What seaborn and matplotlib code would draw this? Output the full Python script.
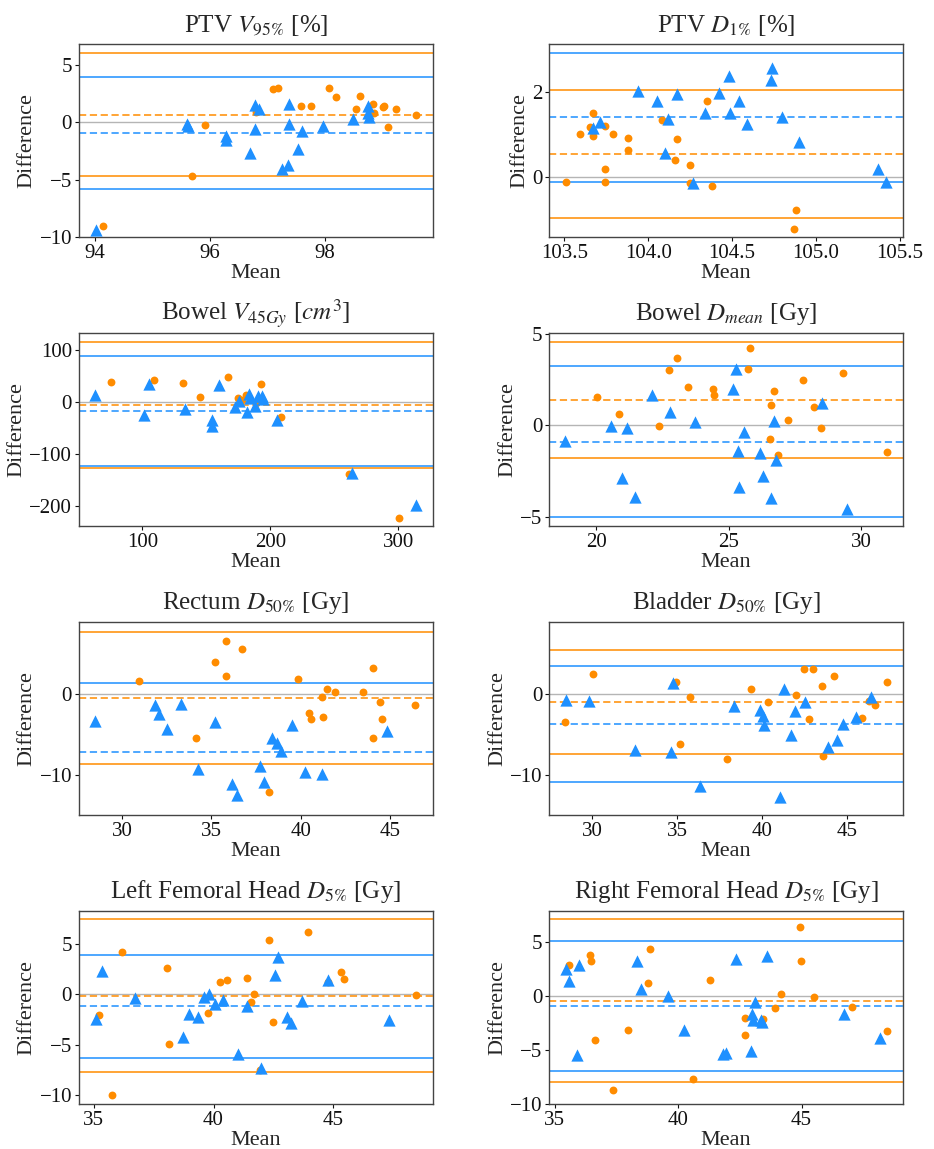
import numpy as np
import pandas as pd
import matplotlib.pyplot as plt
import seaborn as sns

# Bland-Altman: mean vs difference, method A (orange circles) and B (blue triangles)

# PTV V95%
ptv_v95_mean_a = [94.15, 95.70, 95.92, 96.81, 97.10, 97.19, 97.59, 97.76, 98.07, 98.19,
                  98.60, 98.54, 98.84, 98.86, 99.00, 99.03, 99.09, 99.23, 99.58]
ptv_v95_diff_a = [-9.01, -4.65, -0.23, 0.87, 2.91, 2.97, 1.45, 1.40, 3.02, 2.21,
                  2.30, 1.16, 1.63, 0.78, 1.34, 1.45, -0.44, 1.13, 0.64]
ptv_v95_mean_b = [94.02, 95.61, 95.63, 96.28, 96.29, 96.70, 96.78, 96.79, 96.86, 97.26,
                  97.36, 97.37, 97.38, 97.54, 97.60, 97.96, 98.48, 98.75, 98.75, 98.76]
ptv_v95_diff_b = [-9.36, -0.15, -0.35, -1.22, -1.57, -2.67, -0.58, 1.51, 1.19, -4.04,
                  -3.75, 1.63, -0.17, -2.30, -0.76, -0.35, 0.29, 1.45, 0.81, 0.47]

# PTV D1%
ptv_d1_mean_a = [103.51, 103.59, 103.65, 103.67, 103.67, 103.74, 103.74, 103.74, 103.79, 103.88,
                 103.88, 104.08, 104.17, 104.16, 104.25, 104.25, 104.35, 104.38, 104.88, 104.87]
ptv_d1_diff_a = [-0.13, 1.02, 1.19, 1.50, 0.97, 1.20, 0.19, -0.11, 1.02, 0.91,
                 0.64, 1.34, 0.89, 0.40, 0.29, -0.15, 1.80, -0.21, -0.78, -1.22]
ptv_d1_mean_b = [103.67, 103.71, 103.94, 104.05, 104.10, 104.12, 104.17, 104.27, 104.34, 104.42,
                 104.48, 104.49, 104.54, 104.59, 104.73, 104.74, 104.80, 104.90, 105.37, 105.42]
ptv_d1_diff_b = [1.16, 1.29, 2.02, 1.80, 0.57, 1.37, 1.96, -0.14, 1.52, 1.99,
                 2.38, 1.50, 1.79, 1.25, 2.30, 2.57, 1.41, 0.82, 0.19, -0.13]

# Bowel V45Gy
bowel_v45_mean_a = [75.3, 108.9, 132.0, 144.8, 166.9, 174.5, 181.2, 178.0, 189.0, 192.9,
                    208.6, 261.5, 301.0]
bowel_v45_diff_a = [37.3, 42.5, 36.1, 9.0, 47.0, 6.4, 13.5, 3.0, -3.0, 34.1,
                    -29.0, -138.4, -223.4]
bowel_v45_mean_b = [63.3, 101.3, 105.2, 133.3, 154.4, 154.4, 159.6, 172.1, 175.5, 181.8,
                    183.3, 184.4, 187.8, 190.4, 193.2, 194.3, 205.2, 264.1, 314.1]
bowel_v45_diff_b = [13.5, -25.1, 34.8, -14.2, -34.8, -46.4, 31.6, -9.7, 1.9, -20.0,
                    15.5, 7.1, -7.7, 10.3, 11.6, 5.8, -35.4, -136.5, -199.6]

# Bowel Dmean
bowel_dmean_mean_a = [20.04, 20.86, 22.39, 22.75, 23.06, 23.48, 24.41, 24.43, 25.79, 25.73,
                      26.70, 26.60, 26.55, 26.85, 27.23, 27.81, 28.21, 28.49, 29.29, 30.98]
bowel_dmean_diff_a = [1.57, 0.60, -0.04, 3.03, 3.69, 2.10, 1.97, 1.63, 4.22, 3.09,
                      1.86, 1.12, -0.73, -1.63, 0.29, 2.49, 1.02, -0.16, 2.87, -1.46]
bowel_dmean_mean_b = [18.84, 20.57, 21.17, 20.96, 21.47, 22.10, 22.79, 23.72, 25.18, 25.26,
                      25.36, 25.40, 25.59, 26.17, 26.31, 26.60, 26.71, 26.80, 28.51, 29.45]
bowel_dmean_diff_b = [-0.84, -0.02, -0.15, -2.91, -3.95, 1.65, 0.71, 0.15, 1.97, 3.09,
                      -1.43, -3.40, -0.38, -1.54, -2.78, -3.97, 0.22, -1.90, 1.22, -4.57]

# Rectum D50%
rectum_mean_a = [30.95, 34.13, 35.19, 35.80, 35.82, 36.68, 38.24, 39.82, 40.47, 40.56,
                 41.18, 41.23, 41.43, 41.90, 43.48, 44.04, 44.02, 44.43, 44.54, 46.39]
rectum_diff_a = [1.58, -5.44, 3.94, 2.28, 6.64, 5.60, -12.16, 1.91, -2.37, -3.03,
                 -0.33, -2.78, 0.62, 0.33, 0.25, 3.28, -5.44, -1.00, -3.07, -1.33]
rectum_mean_b = [28.51, 31.86, 32.06, 32.53, 33.29, 34.27, 35.19, 36.15, 36.40, 37.72,
                 37.94, 38.41, 38.69, 38.91, 39.51, 40.23, 41.20, 44.83]
rectum_diff_b = [-3.36, -1.29, -2.41, -4.32, -1.20, -9.25, -3.40, -11.08, -12.53, -8.88,
                 -10.87, -5.48, -6.06, -7.10, -3.82, -9.63, -9.92, -4.52]

# Bladder D50%
bladder_mean_a = [28.43, 30.08, 34.95, 35.76, 35.15, 37.96, 39.37, 40.33, 42.00, 42.48,
                  42.97, 42.77, 43.52, 43.58, 44.24, 45.85, 46.31, 46.62, 47.35]
bladder_diff_a = [-3.43, 2.52, 1.57, -0.33, -6.12, -8.06, 0.66, -0.99, -0.04, 3.06,
                  3.06, -3.06, 1.07, -7.60, 2.23, -2.89, -0.79, -1.32, 1.57]
bladder_mean_b = [28.47, 29.84, 32.53, 34.67, 34.79, 36.34, 38.33, 39.90, 40.04, 40.14,
                  41.28, 41.08, 41.71, 41.93, 42.50, 43.89, 44.40, 44.74, 45.54, 46.39]
bladder_diff_b = [-0.74, -0.83, -6.86, -7.19, 1.36, -11.28, -1.40, -1.90, -2.73, -3.84,
                  0.66, -12.64, -5.00, -2.07, -0.99, -6.57, -5.62, -3.68, -2.85, -0.29]

# Left Femoral Head D5%
lfh_mean_a = [35.21, 35.76, 36.18, 38.06, 38.15, 39.75, 40.26, 40.58, 41.40, 41.57,
              41.69, 42.33, 42.49, 43.93, 44.76, 45.31, 45.43, 48.43, 41.92]
lfh_diff_a = [-2.08, -9.93, 4.16, 2.57, -4.98, -1.91, 1.16, 1.39, 1.55, -0.83,
              -0.03, 5.38, -2.77, 6.14, 1.16, 2.15, 1.45, -0.07, -7.46]
lfh_mean_b = [35.08, 35.33, 36.72, 38.74, 38.99, 39.36, 39.61, 39.81, 40.08, 40.39,
              41.38, 41.03, 41.96, 42.58, 42.68, 43.06, 43.25, 43.69, 44.79, 47.31]
lfh_diff_b = [-2.51, 2.24, -0.36, -4.26, -2.01, -2.24, -0.30, 0.00, -0.96, -0.63,
              -1.19, -5.91, -7.26, 1.85, 3.70, -2.28, -2.84, -0.69, 1.35, -2.61]

# Right Femoral Head D5%
rfh_mean_a = [35.58, 36.43, 36.46, 36.62, 37.34, 37.95, 38.76, 38.84, 40.60, 41.29,
              42.71, 42.70, 43.44, 43.93, 44.17, 44.92, 44.98, 45.51, 47.05, 48.48]
rfh_diff_a = [2.93, 3.86, 3.27, -4.02, -8.75, -3.15, 1.25, 4.42, -7.66, 1.46,
              -2.02, -3.61, -2.15, -1.06, 0.22, 6.45, 3.27, -0.03, -0.97, -3.27]
rfh_mean_b = [35.45, 35.58, 36.00, 35.91, 38.32, 38.48, 39.58, 40.23, 41.80, 41.92,
              42.36, 42.94, 42.98, 43.02, 43.12, 43.34, 43.39, 43.60, 46.72, 48.17]
rfh_diff_b = [2.55, 1.37, 2.87, -5.48, 3.30, 0.69, 0.03, -3.18, -5.33, -5.26,
              3.49, -5.11, -1.68, -2.21, -0.53, -2.24, -2.37, 3.77, -1.68, -3.86]

# bias and limits of agreement: (lower, mean, upper)
loa_ptv_v95 = {"A": [-4.65, 0.64, 6.05], "B": [-5.81, -0.90, 3.98]}
loa_ptv_d1 = {"A": [-0.97, 0.55, 2.06], "B": [-0.11, 1.41, 2.93]}
loa_bowel_v45 = {"A": [-128.1, -5.8, 115.9], "B": [-123.6, -18.0, 88.2]}
loa_bowel_dmean = {"A": [-1.77, 1.39, 4.57], "B": [-5.03, -0.90, 3.24]}
loa_rectum = {"A": [-8.71, -0.50, 7.72], "B": [-15.69, -7.18, 1.33]}
loa_bladder = {"A": [-7.36, -0.99, 5.45], "B": [-10.83, -3.68, 3.47]}
loa_lfh = {"A": [-7.69, -0.17, 7.46], "B": [-6.34, -1.22, 3.83]}
loa_rfh = {"A": [-8.0, -0.47, 7.20], "B": [-6.98, -0.93, 5.11]}

titles = ["PTV $V_{95\\%}$ [%]", "PTV $D_{1\\%}$ [%]",
          "Bowel $V_{45Gy}$ [$cm^3$]", "Bowel $D_{mean}$ [Gy]",
          "Rectum $D_{50\\%}$ [Gy]", "Bladder $D_{50\\%}$ [Gy]",
          "Left Femoral Head $D_{5\\%}$ [Gy]", "Right Femoral Head $D_{5\\%}$ [Gy]"]

paneles = [
    (ptv_v95_mean_a, ptv_v95_diff_a, ptv_v95_mean_b, ptv_v95_diff_b, loa_ptv_v95,
     (93.73, 99.87), (-10, 6.83), [94, 96, 98], [-10, -5, 0, 5]),
    (ptv_d1_mean_a, ptv_d1_diff_a, ptv_d1_mean_b, ptv_d1_diff_b, loa_ptv_d1,
     (103.41, 105.52), (-1.42, 3.14), [103.5, 104.0, 104.5, 105.0, 105.5], [0, 2]),
    (bowel_v45_mean_a, bowel_v45_diff_a, bowel_v45_mean_b, bowel_v45_diff_b, loa_bowel_v45,
     (50.5, 327), (-239.5, 132.6), [100, 200, 300], [-200, -100, 0, 100]),
    (bowel_dmean_mean_a, bowel_dmean_diff_a, bowel_dmean_mean_b, bowel_dmean_diff_b, loa_bowel_dmean,
     (18.24, 31.57), (-5.52, 5.05), [20, 25, 30], [-5, 0, 5]),
    (rectum_mean_a, rectum_diff_a, rectum_mean_b, rectum_diff_b, loa_rectum,
     (27.6, 47.36), (-14.98, 8.96), [30, 35, 40, 45], [-10, 0]),
    (bladder_mean_a, bladder_diff_a, bladder_mean_b, bladder_diff_b, loa_bladder,
     (27.49, 48.29), (-14.92, 8.93), [30, 35, 40, 45], [-10, 0]),
    (lfh_mean_a, lfh_diff_a, lfh_mean_b, lfh_diff_b, loa_lfh,
     (34.39, 49.14), (-10.86, 8.22), [35, 40, 45], [-10, -5, 0, 5]),
    (rfh_mean_a, rfh_diff_a, rfh_mean_b, rfh_diff_b, loa_rfh,
     (34.78, 49.11), (-10.0, 7.91), [35, 40, 45], [-10, -5, 0, 5]),
]

colores = {"A": "#ff8c00", "B": "#1e90ff"}

sns.set_theme(style="ticks")
plt.rcParams['font.family'] = ['Liberation Serif', 'DejaVu Serif']
plt.rcParams['mathtext.fontset'] = 'stix'
plt.rcParams['axes.edgecolor'] = '#444444'
plt.rcParams['axes.linewidth'] = 1.0

fig, axes = plt.subplots(4, 2, figsize=(9.34, 11.49), dpi=100)
plt.subplots_adjust(left=0.0846, right=0.9668, top=0.9617, bottom=0.0392,
                    wspace=0.33, hspace=0.497)

for ax, titulo, (ma, da, mb, db, loa, xlim, ylim, xt, yt) in zip(axes.flat, titles, paneles):
    df = pd.concat([
        pd.DataFrame({"Mean": ma, "Difference": da, "metodo": "A"}),
        pd.DataFrame({"Mean": mb, "Difference": db, "metodo": "B"}),
    ], ignore_index=True)

    ax.axhline(0, color="#b5b5b5", lw=1.0, zorder=1)
    for m in ["A", "B"]:
        low, bias, up = loa[m]
        ax.axhline(up, color=colores[m], lw=1.3, alpha=0.85, zorder=1)
        ax.axhline(low, color=colores[m], lw=1.3, alpha=0.85, zorder=1)
        ax.axhline(bias, color=colores[m], lw=1.3, ls=(0, (4, 2)), alpha=0.85, zorder=1)

    sns.scatterplot(data=df[df.metodo == "A"], x="Mean", y="Difference", ax=ax,
                    color=colores["A"], marker="o", s=32, linewidth=0, zorder=3)
    sns.scatterplot(data=df[df.metodo == "B"], x="Mean", y="Difference", ax=ax,
                    color=colores["B"], marker="^", s=78, linewidth=0, zorder=3)

    ax.set_xlim(*xlim)
    ax.set_ylim(*ylim)
    ax.set_xticks(xt)
    ax.set_yticks(yt)
    if xt[0] == 103.5:
        ax.set_xticklabels([f"{v:.1f}" for v in xt])
    ax.tick_params(labelsize=15, length=3, width=0.8, pad=2, colors="#111111")
    ax.set_title(titulo, fontsize=18, pad=9)
    ax.set_xlabel("Mean", fontsize=16, labelpad=1)
    ax.set_ylabel("Difference", fontsize=16, labelpad=2)

plt.savefig("out.png", dpi=100)
plt.close()
